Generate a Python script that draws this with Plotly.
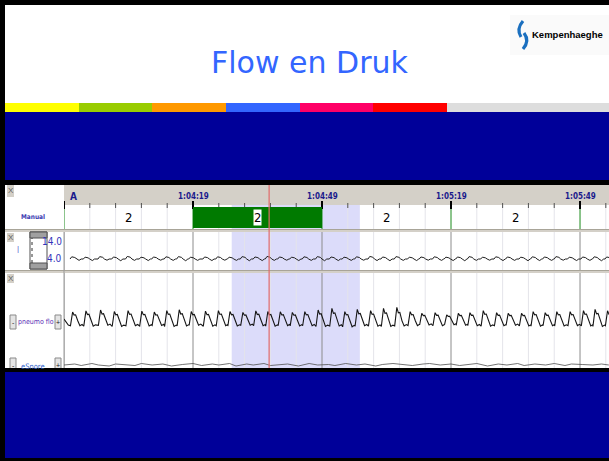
import plotly.graph_objects as go

W, H = 609, 461

# ---------------- data ----------------
title_text = "Flow en Druk"
logo_text = "Kempenhaeghe"
stripe_colors = ["#ffff00", "#99cc00", "#ff9900", "#3366ff", "#ff0066", "#ff0000", "#dddddd"]
stripe_edges_px = [5, 79, 152, 226, 300, 373, 447, 609]

window_end_s = 126.74          # seconds after 1:03:49 visible at the right edge
epoch_start_s = [0, 30, 60, 90, 120]
epoch_stage = ["2", "2", "2", "2", ""]
epoch_selected = [0, 1, 0, 0, 0]
epoch_tick_s = [30, 60, 90, 120]
epoch_tick_text = ["1:04:19", "1:04:49", "1:05:19", "1:05:49"]
start_label = "A"
grid_minor_s = [6, 12, 18, 24, 36, 42, 48, 54, 66, 72, 78, 84, 96, 102, 108, 114, 126]
selection_s = [39.0, 68.8]
cursor_s = 47.7

breath_peak_s = [2.0, 5.1, 8.5, 11.7, 14.9, 18.1, 21.0, 23.9, 26.8, 29.6,
                 32.9, 35.9, 38.6, 41.6, 44.6, 47.4, 50.3, 53.1, 56.0, 59.1,
                 62.3, 65.3, 68.2, 71.3, 74.3, 77.4, 80.5, 83.2, 86.3, 89.0,
                 91.7, 94.4, 97.5, 100.6, 103.3, 106.4, 109.1, 111.9, 114.6, 117.7,
                 120.8, 123.5, 126.4]
flow_peak = [0.36, 0.44, 0.50, 0.40, 0.46, 0.42, 0.36, 0.46, 0.52, 0.40,
             0.42, 0.46, 0.40, 0.34, 0.44, 0.40, 0.38, 0.34, 0.39, 0.50,
             0.61, 0.39, 0.54, 0.46, 0.61, 0.68, 0.39, 0.28, 0.32, 0.17,
             0.28, 0.32, 0.46, 0.32, 0.28, 0.28, 0.39, 0.32, 0.39, 0.39,
             0.46, 0.54, 0.45]
flow_trough = [-0.55, -0.58, -0.52, -0.60, -0.55, -0.57, -0.53, -0.60, -0.56, -0.52,
               -0.58, -0.55, -0.57, -0.52, -0.55, -0.58, -0.54, -0.56, -0.55, -0.60,
               -0.57, -0.62, -0.55, -0.58, -0.60, -0.56, -0.54, -0.50, -0.55, -0.48,
               -0.52, -0.55, -0.58, -0.55, -0.52, -0.56, -0.58, -0.55, -0.57, -0.54,
               -0.56, -0.60, -0.55]
flow_lead_s = [0.0, 1.0]
flow_lead_v = [-0.10, -0.50]
breath_shape_dt = [-0.5, 0.0, 0.35, 0.7, 1.2, 1.7, 2.2]

pressure_peak = [4.7, 4.5, 4.8, 4.6, 4.9, 4.5, 4.6, 4.7, 4.8, 4.5,
                 4.6, 4.7, 4.5, 4.8, 4.6, 4.9, 4.6, 4.5, 4.7, 4.8,
                 4.6, 4.5, 4.7, 4.9, 4.6, 4.8, 4.5, 4.6, 4.7, 4.5,
                 4.6, 4.8, 4.5, 4.7, 4.6, 4.5, 4.7, 4.6, 4.8, 4.5,
                 4.6, 4.7, 4.6]
pressure_trough = [2.6, 2.5, 2.7, 2.4, 2.6, 2.5, 2.7, 2.6, 2.4, 2.6,
                   2.5, 2.7, 2.6, 2.4, 2.5, 2.6, 2.7, 2.5, 2.6, 2.4,
                   2.5, 2.6, 2.7, 2.5, 2.4, 2.6, 2.5, 2.7, 2.6, 2.5,
                   2.4, 2.6, 2.7, 2.5, 2.6, 2.4, 2.5, 2.6, 2.7, 2.5,
                   2.6, 2.4, 2.5]
pressure_base = 3.4
pressure_shape_dt = [-0.6, -0.2, 0.5, 0.9, 1.5, 2.0]
pressure_scale_labels = ["14.0", "4.0"]

snore_s = [0.0, 2.5, 4.0, 6.5, 8.0, 10.5, 12.0, 14.0, 16.5, 18.0,
           20.5, 23.0, 25.0, 27.5, 30.0, 32.0, 34.5, 36.0, 38.5, 40.0,
           42.5, 44.0, 46.5, 48.0, 50.5, 52.0, 54.5, 57.0, 59.0, 61.5,
           63.0, 65.5, 68.0, 70.0, 72.5, 74.0, 76.5, 79.0, 81.0, 83.5,
           85.0, 87.5, 90.0, 92.0, 94.5, 96.0, 98.5, 101.0, 103.0, 105.5,
           107.0, 109.5, 112.0, 114.0, 116.5, 118.0, 120.5, 123.0, 125.0, 126.7]
snore_v = [0.0, 0.2, -0.1, 0.3, 0.0, -0.2, 0.2, 0.1, -0.1, 0.3,
           0.0, 0.2, -0.2, 0.1, 0.3, -0.1, 0.2, 0.0, 0.3, -0.2,
           0.2, 0.0, 0.3, -0.1, 0.1, 0.2, -0.2, 0.3, 0.0, 0.1,
           -0.1, 0.3, 0.0, 0.2, -0.2, 0.1, 0.3, 0.0, -0.1, 0.2,
           0.3, 0.0, 0.2, -0.1, 0.1, 0.3, -0.2, 0.2, 0.0, 0.3,
           -0.1, 0.2, 0.0, 0.3, -0.1, 0.2, 0.1, 0.0, 0.2, 0.0]

channel_labels = ["Manual", "pneumo flo", "eSnore"]

# ---------------- build series ----------------
flow_x, flow_y = list(flow_lead_s), list(flow_lead_v)
for tp, pk, tr in zip(breath_peak_s, flow_peak, flow_trough):
    vals = [tr, pk, pk * 0.45, pk * 0.5, tr * 0.4, tr, tr * 0.85]
    flow_x += [tp + d for d in breath_shape_dt]
    flow_y += vals

pres_x, pres_y = [], []
for tp, pk, tr in zip(breath_peak_s, pressure_peak, pressure_trough):
    vals = [pressure_base, pk, pk - 0.4, pressure_base, tr, pressure_base]
    pres_x += [tp + d for d in pressure_shape_dt]
    pres_y += vals

# ---------------- helpers ----------------
def px(x):
    return x / W

def py(y):
    return 1 - y / H

shapes = []
annotations = []

def rect(x0, y0, x1, y1, color, layer="below", line_color=None, line_width=0):
    shapes.append(dict(type="rect", xref="paper", yref="paper",
                       x0=px(x0), x1=px(x1), y0=py(y1), y1=py(y0),
                       fillcolor=color, layer=layer,
                       line=dict(color=line_color or color, width=line_width)))

def hline(x0, x1, y, color, width=1, layer="below"):
    shapes.append(dict(type="line", xref="paper", yref="paper",
                       x0=px(x0), x1=px(x1), y0=py(y), y1=py(y),
                       line=dict(color=color, width=width), layer=layer))

def vline_px(x, y0, y1, color, width=1, layer="below", dash="solid"):
    shapes.append(dict(type="line", xref="paper", yref="paper",
                       x0=px(x), x1=px(x), y0=py(y1), y1=py(y0),
                       line=dict(color=color, width=width, dash=dash), layer=layer))

def vline_t(t, y0, y1, color, width=1, layer="below"):
    shapes.append(dict(type="line", xref="x", yref="paper",
                       x0=t, x1=t, y0=py(y1), y1=py(y0),
                       line=dict(color=color, width=width), layer=layer))

def path_px(points, color, width, layer="above"):
    (x0, y0), rest = points[0], points[1:]
    d = f"M {px(x0)},{py(y0)}"
    for i in range(0, len(rest), 2):
        (cx, cy), (ex, ey) = rest[i], rest[i + 1]
        d += f" Q {px(cx)},{py(cy)} {px(ex)},{py(ey)}"
    shapes.append(dict(type="path", xref="paper", yref="paper", path=d,
                       line=dict(color=color, width=width), layer=layer))

def text(s, x, y, size, color, family, xanchor="center", weight="normal",
         xref="paper", bg=None, xshift=0):
    annotations.append(dict(text=s, x=px(x) if xref == "paper" else x, xref=xref,
                            y=py(y), yref="paper", showarrow=False,
                            xanchor=xanchor, yanchor="middle", xshift=xshift,
                            font=dict(size=size, color=color, family=family, weight=weight),
                            bgcolor=bg, borderpad=0))

SANS = "DejaVu Sans, Verdana, sans-serif"
ARIAL = "Liberation Sans, Arial, sans-serif"
NARROW = "Liberation Sans Narrow, DejaVu Sans Condensed, Arial Narrow, sans-serif"

# ---------------- slide decoration ----------------
rect(0, 0, W, 5, "#000000", layer="above")
rect(0, 0, 5, H, "#000000", layer="above")
rect(510, 15, 609, 55, "#fafafa")
for c, a, b in zip(stripe_colors, stripe_edges_px[:-1], stripe_edges_px[1:]):
    rect(a, 103, b, 112, c)
rect(5, 112, W, 180, "#000099")
rect(5, 180, W, 185, "#000000", layer="above")
rect(5, 368, W, 372, "#000000", layer="above")
rect(5, 372, W, 458, "#000099", layer="above")
rect(0, 458, W, H, "#000000", layer="above")

# ---------------- screenshot panel ----------------
rect(5, 185, W, 368, "#ffffff")
rect(64, 185, W, 205, "#d4d0c8")
# selection
shapes.append(dict(type="rect", xref="x", yref="paper", x0=selection_s[0], x1=selection_s[1],
                   y0=py(368), y1=py(205), fillcolor="#dcdcfa", line=dict(width=0), layer="below"))
# minor grid
for t in grid_minor_s:
    vline_t(t, 205, 368, "#e4e4ea")
    vline_t(t, 203, 208, "#505050", width=1)
# epoch boundaries
for t in epoch_start_s:
    vline_t(t, 232, 368, "#8c8c8c")
    vline_t(t, 205, 230, "#1a8a1a")
    vline_t(t, 201, 209, "#000000", width=2)
# row separators
rect(5, 229, W, 232, "#d4d0c8")
rect(5, 270, W, 273, "#d4d0c8")
hline(5, W, 229.5, "#a8a498")
hline(5, W, 270.5, "#a8a498")
vline_px(64, 232, 368, "#9a9a9a")
# red cursor
vline_t(cursor_s, 185, 368, "#e06a6a", width=1.2, layer="above")

# X buttons
for y0, y1 in [(185, 197), (233, 242), (274, 283)]:
    rect(7, y0, 14, y1, "#d4d0c8")
    text("X", 10.5, (y0 + y1) / 2, 8, "#606060", ARIAL)

# channel 1 scale box
rect(30, 232, 47, 269, "#ffffff", line_color="#505050", line_width=1)
rect(30, 232, 47, 238, "#a0a0a0", line_color="#505050", line_width=1)
rect(30, 263, 47, 269, "#a0a0a0", line_color="#505050", line_width=1)
vline_px(32, 238, 263, "#303030", width=1, dash="dot")
text(pressure_scale_labels[0], 62.5, 241, 10, "#3333bb", NARROW, xanchor="right")
text(pressure_scale_labels[1], 62.5, 258, 10, "#3333bb", NARROW, xanchor="right")
text("|", 18, 249, 8, "#5555cc", ARIAL)

# -/+ buttons
for yc in [322, 365]:
    rect(10, yc - 7, 16, yc + 7, "#e4e4e4", line_color="#8a8a8a", line_width=1)
    rect(55, yc - 7, 61, yc + 7, "#e4e4e4", line_color="#8a8a8a", line_width=1)
    text("-", 13, yc, 7, "#202020", ARIAL)
    text("+", 58, yc, 7, "#202020", ARIAL)

text(channel_labels[0], 33, 217, 6.5, "#3b3bb0", NARROW, weight="bold")
text(channel_labels[1], 35.5, 322, 7, "#5b2db5", NARROW)
text(channel_labels[2], 33, 366, 7.5, "#3366cc", NARROW)

# time labels
text(start_label, 0, 196, 10, "#1a1a8c", NARROW, xanchor="left", weight="bold", xref="x", xshift=5)
for t, lab in zip(epoch_tick_s, epoch_tick_text):
    text(lab, t, 196, 8, "#1a1a8c", NARROW, weight="bold", xref="x")

# stage labels
for t0, st, sel in zip(epoch_start_s, epoch_stage, epoch_selected):
    if st:
        text(st, t0 + 15, 217, 13, "#000000", NARROW, xref="x", bg="#ffffff" if sel else None)

# title and logo
text(title_text, 309, 62, 30, "#3366ff", SANS)
text(logo_text, 531, 34, 9.5, "#000000", ARIAL, xanchor="left", weight="bold")
path_px([(523, 21), (516, 29), (521, 37)], "#1a6fbf", 3.2)
path_px([(524, 33), (530, 41), (523, 49)], "#1a6fbf", 3.2)

# ---------------- traces ----------------
sel_x = [t0 + 15 for t0, s in zip(epoch_start_s, epoch_selected) if s]
fig = go.Figure()
fig.add_trace(go.Bar(x=sel_x, y=[0.84] * len(sel_x), base=[0.08] * len(sel_x), width=[30] * len(sel_x),
                     marker=dict(color="#007a00", line=dict(width=0)), xaxis="x", yaxis="y",
                     hoverinfo="skip", showlegend=False))
fig.add_trace(go.Scatter(x=pres_x, y=pres_y, mode="lines", line=dict(color="#202020", width=1),
                         xaxis="x", yaxis="y2", hoverinfo="skip", showlegend=False))
fig.add_trace(go.Scatter(x=flow_x, y=flow_y, mode="lines", line=dict(color="#151515", width=1.1),
                         xaxis="x", yaxis="y3", hoverinfo="skip", showlegend=False))
fig.add_trace(go.Scatter(x=snore_s, y=snore_v, mode="lines", line=dict(color="#505050", width=0.8),
                         xaxis="x", yaxis="y4", hoverinfo="skip", showlegend=False))

fig.update_layout(
    width=W, height=H, margin=dict(l=0, r=0, t=0, b=0),
    paper_bgcolor="#ffffff", plot_bgcolor="rgba(0,0,0,0)",
    showlegend=False, bargap=0,
    xaxis=dict(domain=[px(64), 1], range=[0, window_end_s], visible=False, fixedrange=True),
    yaxis=dict(domain=[py(230), py(205)], range=[0, 1], visible=False, fixedrange=True),
    yaxis2=dict(domain=[py(270), py(232)], range=[-3.06, 19.29], visible=False, anchor="x", fixedrange=True),
    yaxis3=dict(domain=[py(340), py(295)], range=[-1.5, 1.5], visible=False, anchor="x", fixedrange=True),
    yaxis4=dict(domain=[py(370), py(360)], range=[-1, 1], visible=False, anchor="x", fixedrange=True),
    shapes=shapes, annotations=annotations,
)

fig.write_html("out.html", config={"displayModeBar": False, "staticPlot": True},
               post_script="document.body.style.margin='0';")
